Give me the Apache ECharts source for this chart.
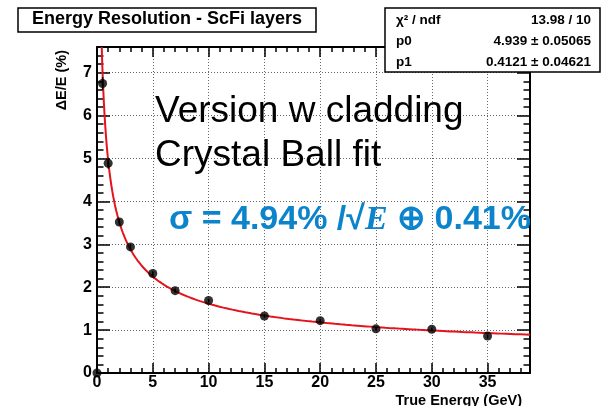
<!DOCTYPE html>
<html>
<head>
<meta charset="utf-8">
<title>Energy Resolution - ScFi layers</title>
<script src="https://cdn.jsdelivr.net/npm/echarts@6.0.0/dist/echarts.min.js"></script>
<style>
  html, body { margin: 0; padding: 0; background: #fff; }
  #chart { width: 602px; height: 406px; }
</style>
</head>
<body>
<div id="chart"></div>
<script>
// Measured resolution vs. beam energy
const energies   = [0, 0.5, 1, 2, 3, 5, 7, 10, 15, 20, 25, 30, 35];
const resolution = [0, 6.75, 4.89, 3.52, 2.94, 2.32, 1.92, 1.69, 1.33, 1.22, 1.03, 1.02, 0.86];
const resErrors  = [0, 0.15, 0.12, 0.07, 0.06, 0.05, 0.05, 0.04, 0.04, 0.04, 0.04, 0.04, 0.04];

// Fit results: sigma/E = p0/sqrt(E) (+) p1
const fitStats = [
  ['\u03c7\u00b2 / ndf', '13.98 / 10'],
  ['p0', '4.939 \u00b1 0.05065'],
  ['p1', '0.4121 \u00b1 0.04621']
];
const p0 = 4.939;
const p1 = 0.4121;

// Axis ranges and tick steps
const xMax = 38.8;
const yMax = 7.6;
const xMajor = 5, xMinor = 1;
const yMajor = 1, yMinor = 0.2;

const FONT = "'Liberation Sans', Arial, Helvetica, sans-serif";

// Fit curve, evaluated from the fitted parameters
function fitFn(e) { return Math.sqrt(p0 * p0 / e + p1 * p1); }
const eStart = p0 * p0 / (yMax * yMax - p1 * p1);
const fitCurve = [];
const nCurve = 400;
for (let i = 0; i <= nCurve; i++) {
  const e = eStart * Math.pow(xMax / eStart, i / nCurve);
  fitCurve.push([e, fitFn(e)]);
}

const points = energies.map((e, i) => [e, resolution[i]]);
const errBars = energies.map((e, i) => [e, resolution[i], resErrors[i]]);

function intLabel(step) {
  return function (v) {
    const r = Math.round(v);
    return (Math.abs(v - r) < 1e-6 && r % step === 0) ? String(r) : '';
  };
}

const chart = echarts.init(document.getElementById('chart'), null, { renderer: 'canvas' });

const gridBox = { left: 97, right: 72, top: 47, bottom: 33, containLabel: false };
const tickStyle = { color: '#000', width: 1.5 };
const gridDots = { show: true, lineStyle: { color: '#666', width: 1, type: [1, 2] } };

// One axis of the frame: grid 0 carries the major ticks, grid 1 the minor ones
function frameAxis(gridIndex, position, max, interval, tickLen, extra) {
  return Object.assign({
    type: 'value', gridIndex: gridIndex, position: position,
    min: 0, max: max, interval: interval,
    axisLine: gridIndex === 0
      ? { show: true, onZero: false, lineStyle: { color: '#000', width: 2 } }
      : { show: false, onZero: false },
    axisTick: { show: true, inside: true, length: tickLen, lineStyle: tickStyle },
    axisLabel: { show: false },
    splitLine: { show: false }
  }, extra || {});
}

const option = {
  animation: false,
  backgroundColor: '#fff',
  grid: [gridBox, Object.assign({}, gridBox)],
  xAxis: [
    frameAxis(0, 'bottom', xMax, xMajor, 10, {
      axisLabel: { show: true, formatter: intLabel(xMajor), color: '#000', fontFamily: FONT,
                   fontWeight: 'bold', fontSize: 16, margin: 2 },
      splitLine: gridDots
    }),
    frameAxis(0, 'top', xMax, xMajor, 10),
    frameAxis(1, 'bottom', xMax, xMinor, 5),
    frameAxis(1, 'top', xMax, xMinor, 5)
  ],
  yAxis: [
    frameAxis(0, 'left', yMax, yMajor, 13, {
      axisLabel: { show: true, formatter: intLabel(yMajor), color: '#000', fontFamily: FONT,
                   fontWeight: 'bold', fontSize: 16, margin: 5 },
      splitLine: gridDots
    }),
    frameAxis(0, 'right', yMax, yMajor, 13),
    frameAxis(1, 'left', yMax, yMinor, 6.5),
    frameAxis(1, 'right', yMax, yMinor, 6.5)
  ],
  series: [
    {
      name: 'fit', type: 'line', xAxisIndex: 0, yAxisIndex: 0,
      data: fitCurve, showSymbol: false, symbol: 'none', smooth: false,
      lineStyle: { color: '#e3141b', width: 2 }, clip: true, z: 3
    },
    {
      name: 'errors', type: 'custom', xAxisIndex: 0, yAxisIndex: 0,
      data: errBars, clip: false, z: 4,
      renderItem: function (params, api) {
        const x = api.value(0), y = api.value(1), err = api.value(2);
        const lo = api.coord([x, y - err]);
        const hi = api.coord([x, y + err]);
        return {
          type: 'line',
          shape: { x1: lo[0], y1: lo[1], x2: hi[0], y2: hi[1] },
          style: { stroke: '#000', lineWidth: 1.5 }
        };
      }
    },
    {
      name: 'data', type: 'scatter', xAxisIndex: 0, yAxisIndex: 0,
      data: points, symbol: 'circle', symbolSize: 9, clip: false, z: 5,
      itemStyle: { color: '#000' }
    }
  ],
  graphic: [
    // title box
    {
      type: 'rect', z: 100,
      shape: { x: 18, y: 8, width: 298, height: 24 },
      style: { fill: '#fff', stroke: '#000', lineWidth: 1.5 }
    },
    {
      type: 'text', z: 101,
      style: { x: 167, y: 19.5, text: 'Energy Resolution - ScFi layers', fill: '#000',
               font: "bold 18px " + FONT, align: 'center', verticalAlign: 'middle' }
    },
    // fit statistics box
    {
      type: 'rect', z: 100,
      shape: { x: 385, y: 8, width: 215, height: 64 },
      style: { fill: '#fff', stroke: '#000', lineWidth: 1.5 }
    },
    ...fitStats.flatMap((row, i) => {
      const yMid = 19.8 + i * 21.4;
      return [
        { type: 'text', z: 101,
          style: { x: 396, y: yMid, text: row[0], fill: '#000', font: "bold 13.5px " + FONT,
                   align: 'left', verticalAlign: 'middle' } },
        { type: 'text', z: 101,
          style: { x: 591, y: yMid, text: row[1], fill: '#000', font: "bold 13.5px " + FONT,
                   align: 'right', verticalAlign: 'middle' } }
      ];
    }),
    // annotations
    {
      type: 'text', z: 101,
      style: { x: 155, y: 111.5, text: 'Version w cladding', fill: '#000',
               font: "37px " + FONT, align: 'left', verticalAlign: 'middle' }
    },
    {
      type: 'text', z: 101,
      style: { x: 155, y: 155.5, text: 'Crystal Ball fit', fill: '#000',
               font: "37px " + FONT, align: 'left', verticalAlign: 'middle' }
    },
    {
      type: 'text', z: 101,
      style: {
        x: 169, y: 220,
        text: '{s|\u03c3 = 4.94% /\u221a}{e|E}{s| \u2295 0.41%}',
        align: 'left', verticalAlign: 'middle',
        rich: {
          s: { fill: '#0b84cc', font: "bold 34px " + FONT },
          e: { fill: '#0b84cc', font: "italic bold 34px 'Liberation Serif', 'DejaVu Serif', serif" }
        }
      }
    },
    // axis titles
    {
      type: 'text', z: 101,
      style: { x: 522, y: 400.5, text: 'True Energy (GeV)', fill: '#000',
               font: "bold 14.5px " + FONT, align: 'right', verticalAlign: 'middle' }
    },
    {
      type: 'text', z: 101, x: 62, y: 50, rotation: Math.PI / 2,
      style: { x: 0, y: 0, text: '\u0394E/E (%)', fill: '#000',
               font: "bold 14.5px " + FONT, align: 'right', verticalAlign: 'middle' }
    }
  ]
};

chart.setOption(option);
</script>
</body>
</html>
